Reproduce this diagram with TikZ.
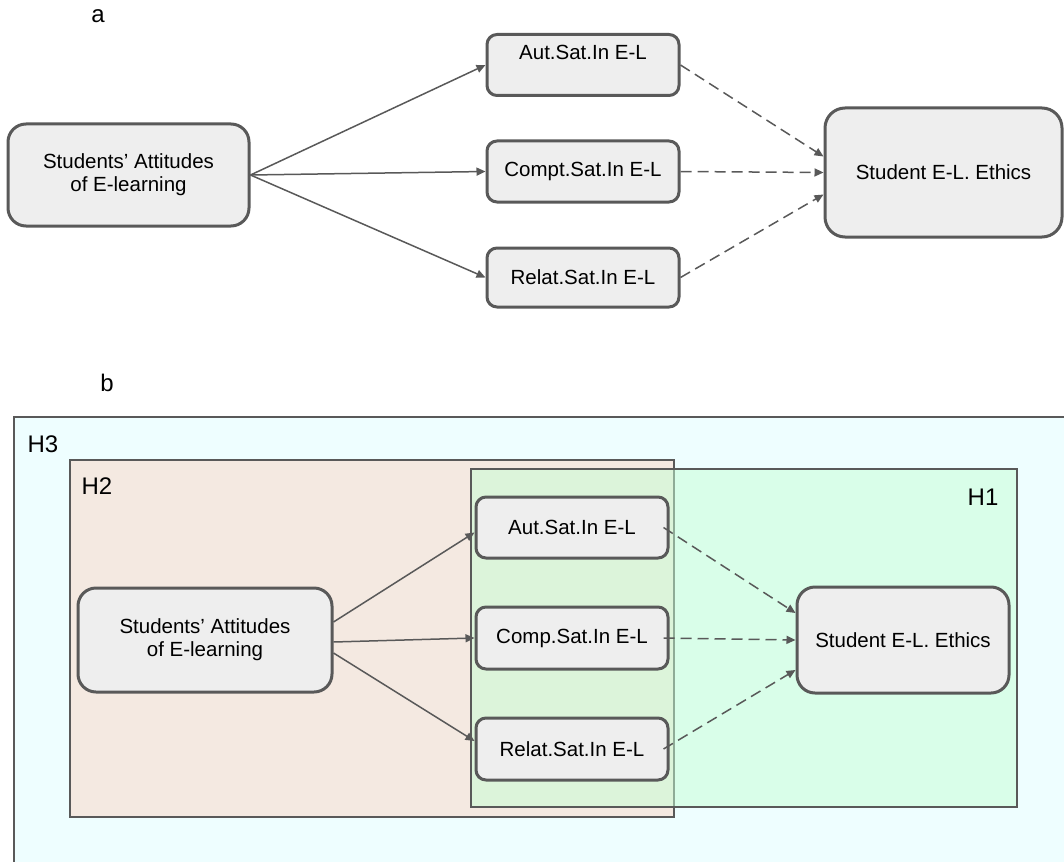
\documentclass[tikz,border=0pt]{standalone}
\usepackage{fontspec}
\setmainfont{Liberation Sans}
\usepackage{tikz}
\usetikzlibrary{arrows.meta}
\definecolor{boxgrey}{RGB}{238,238,238}
\definecolor{linegrey}{RGB}{89,89,89}
\definecolor{hthree}{RGB}{238,254,255}
\definecolor{htwo}{RGB}{244,233,225}
\definecolor{hone}{RGB}{198,255,213}
\tikzset{
    greyarrow/.style={
        line width=1.5pt,
        linegrey,
        ->,
        >={Triangle[length=9pt, width=8pt]}
    },
    % dashed version for the paths into the ethics box
    dasharrow/.style={
        greyarrow,
        dash pattern=on 11pt off 6pt
    },
    greybox/.style={
        draw=linegrey, line width=3pt, fill=boxgrey,
        rounded corners=10pt, minimum width=192pt, minimum height=61pt,
        inner sep=0pt, align=center,
        font=\fontsize{20.5}{23}\selectfont
    },
    bigbox/.style={greybox, rounded corners=18pt},
    hbox/.style={draw=linegrey, line width=2.8pt},
    hlabel/.style={font=\fontsize{24}{28}\selectfont}
}
\begin{document}
\begin{tikzpicture}[x=1pt,y=-1pt]
    \useasboundingbox (0,0) rectangle (1064,861);
    
    % panel a
    \node[hlabel] (la) at (98,16) {a};
    \node[bigbox, minimum width=241pt, minimum height=102pt] (srcA) at (128.5,175) {Students’ Attitudes\\of E-learning};
    \node[greybox, text height=15pt, text depth=25pt] (autA) at (583,65) {Aut.Sat.In E-L};
    \node[greybox] (comptA) at (583,171.5) {Compt.Sat.In E-L};
    \node[greybox, minimum height=59pt] (relatA) at (583,277.5) {Relat.Sat.In E-L};
    \node[bigbox, rounded corners=20pt, minimum width=237pt, minimum height=129pt] (ethA) at (943.5,172.5) {Student E-L. Ethics};
    
    \draw[greyarrow] (srcA.east) -- (autA.west);
    \draw[greyarrow] (srcA.east) -- (comptA.west);
    \draw[greyarrow] (srcA.east) -- (relatA.west);
    \draw[dasharrow] (autA.east) -- ([yshift=16pt]ethA.west);
    \draw[dasharrow] (comptA.east) -- (ethA.west);
    \draw[dasharrow] (relatA.east) -- ([yshift=-22pt]ethA.west);
    
    % panel b
    \node[hlabel] (lb) at (107,383) {b};
    \draw[hbox, fill=hthree] (14,417) rectangle (1080,880);
    \draw[hbox, fill=htwo] (70,460) rectangle (674,817);
    \draw[hbox, fill=hone, fill opacity=0.5] (471,469) rectangle (1017,807);
    \node[hlabel] (hthreeL) at (43,444) {H3};
    \node[hlabel] (htwoL) at (97,486) {H2};
    \node[hlabel] (honeL) at (983,497) {H1};
    
    \node[bigbox, minimum width=254pt, minimum height=104pt] (srcB) at (205,640) {Students’ Attitudes\\of E-learning};
    \node[greybox] (autB) at (572,527.5) {Aut.Sat.In E-L};
    \node[greybox, minimum height=62pt] (compB) at (572,638) {Comp.Sat.In E-L};
    \node[greybox, minimum height=62pt] (relatB) at (572,749) {Relat.Sat.In E-L};
    \node[bigbox, minimum width=212pt, minimum height=106pt] (ethB) at (903,640) {Student E-L. Ethics};
    
    \draw[greyarrow] ([yshift=18pt]srcB.east) -- ([yshift=-5pt]autB.west);
    \draw[greyarrow] ([yshift=-2pt]srcB.east) -- (compB.west);
    \draw[greyarrow] ([yshift=-13pt]srcB.east) -- ([yshift=8pt]relatB.west);
    \draw[dasharrow] ([xshift=-6pt]autB.east) -- ([yshift=27pt]ethB.west);
    \draw[dasharrow] ([xshift=-6pt]compB.east) -- (ethB.west);
    \draw[dasharrow] ([xshift=-6pt]relatB.east) -- ([yshift=-30pt]ethB.west);
\end{tikzpicture}
\end{document}
